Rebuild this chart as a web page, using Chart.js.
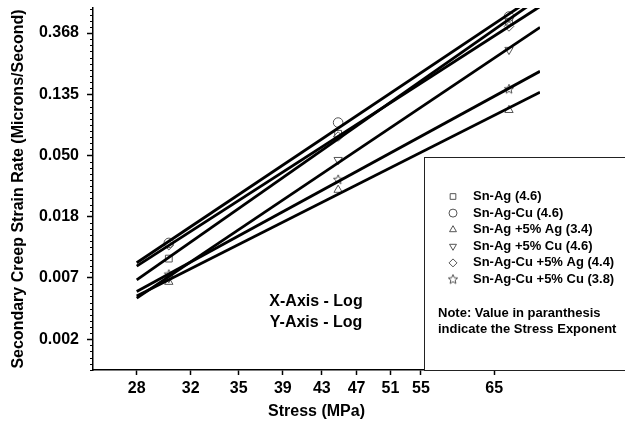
<!DOCTYPE html>
<html>
<head>
<meta charset="utf-8">
<script src="https://cdn.jsdelivr.net/npm/chart.js@4/dist/chart.umd.min.js"></script>
<style>
  html, body { margin: 0; padding: 0; background: #fff; }
  #wrap { width: 625px; height: 425px; }
</style>
</head>
<body>
<div id="wrap"><canvas id="chart"></canvas></div>
<script>
// stress levels of the creep tests (MPa)
const stressLevels = [30.2, 45.0, 67.3];

// secondary creep strain rate (microns/second) per alloy
const snAg = [0.00925, 0.0710, 0.443];
const snAgCu = [0.01195, 0.0853, 0.482];
const snAg5Ag = [0.00632, 0.0284, 0.1046];
const snAg5Cu = [0.00674, 0.0464, 0.280];
const snAgCu5Ag = [0.01152, 0.0679, 0.410];
const snAgCu5Cu = [0.00713, 0.0335, 0.147];

// fitted power-law lines, read at both ends of the stress range
const fitStress = [28, 72.4];
const fitSnAg = [0.00653, 0.656];
const fitSnAgCu = [0.00865, 0.705];
const fitSnAg5Ag = [0.00502, 0.140];
const fitSnAg5Cu = [0.00485, 0.404];
const fitSnAgCu5Ag = [0.00818, 0.568];
const fitSnAgCu5Cu = [0.00541, 0.197];

const seriesNames = ['Sn-Ag (4.6)', 'Sn-Ag-Cu (4.6)', 'Sn-Ag +5% Ag (3.4)', 'Sn-Ag +5% Cu (4.6)', 'Sn-Ag-Cu +5% Ag (4.4)', 'Sn-Ag-Cu +5% Cu (3.8)'];

// axis ticks
const stressTicks = [28, 31.8, 35.6, 39.5, 43.3, 47.0, 50.9, 54.7, 65];
const stressTickLabels = ['28', '32', '35', '39', '43', '47', '51', '55', '65'];
const rateTicks = [0.36788, 0.13534, 0.04979, 0.01832, 0.00674, 0.00248];
const rateTickLabels = ['0.368', '0.135', '0.050', '0.018', '0.007', '0.002'];

const FONT = '"Liberation Sans", Arial, sans-serif';
const MARK = '#555';

function makeStar(r) {
  const s = Math.ceil(r * 2 + 2);
  const c = document.createElement('canvas');
  c.width = s; c.height = s;
  const g = c.getContext('2d');
  g.beginPath();
  for (let i = 0; i < 10; i++) {
    const rad = i % 2 ? r * 0.45 : r;
    const a = -Math.PI / 2 + i * Math.PI / 5;
    g.lineTo(s / 2 + rad * Math.cos(a), s / 2 + rad * Math.sin(a));
  }
  g.closePath();
  g.strokeStyle = MARK;
  g.lineWidth = 1;
  g.stroke();
  return c;
}

const star = makeStar(5);
const styles = [
  {pointStyle: 'rect', rotation: 0},
  {pointStyle: 'circle', rotation: 0},
  {pointStyle: 'triangle', rotation: 0},
  {pointStyle: 'triangle', rotation: 180},
  {pointStyle: 'rectRot', rotation: 0},
  {pointStyle: star, rotation: 0}
];

const pointSeries = [snAg, snAgCu, snAg5Ag, snAg5Cu, snAgCu5Ag, snAgCu5Cu];
const fitSeries = [fitSnAg, fitSnAgCu, fitSnAg5Ag, fitSnAg5Cu, fitSnAgCu5Ag, fitSnAgCu5Cu];

const datasets = [];
pointSeries.forEach((vals, i) => {
  datasets.push({
    label: seriesNames[i],
    data: stressLevels.map((s, j) => ({x: s, y: vals[j]})),
    showLine: false,
    pointStyle: styles[i].pointStyle,
    rotation: styles[i].rotation,
    pointRadius: 4.8,
    borderColor: MARK,
    backgroundColor: 'rgba(0,0,0,0)',
    borderWidth: 1,
    order: 1
  });
});
fitSeries.forEach((vals, i) => {
  datasets.push({
    label: 'fit ' + seriesNames[i],
    data: fitStress.map((s, j) => ({x: s, y: vals[j]})),
    showLine: true,
    pointRadius: 0,
    borderColor: '#000',
    borderWidth: 2.8,
    order: 0
  });
});

// minor ticks on the rate axis, legend box and the axis note
const extras = {
  id: 'extras',
  afterDraw(chart) {
    const ctx = chart.ctx;
    const y = chart.scales.y;
    const left = chart.chartArea.left;
    ctx.save();
    ctx.strokeStyle = '#000';
    ctx.lineWidth = 1;
    for (let k = -65; k <= -6; k++) {
      if (k % 10 === 0) continue;
      const v = Math.exp(k / 10);
      if (v < y.min || v > y.max) continue;
      const py = Math.round(y.getPixelForValue(v)) + 0.5;
      ctx.beginPath();
      ctx.moveTo(left - 3, py);
      ctx.lineTo(left, py);
      ctx.stroke();
    }

    ctx.font = 'bold 16px ' + FONT;
    ctx.fillStyle = '#000';
    ctx.textAlign = 'center';
    ctx.textBaseline = 'middle';
    ctx.fillText('X-Axis - Log', 316, 302);
    ctx.fillText('Y-Axis - Log', 316, 323);

    // legend box
    ctx.fillStyle = '#fff';
    ctx.fillRect(424, 157, 210, 214);
    ctx.strokeStyle = '#222';
    ctx.lineWidth = 1;
    ctx.strokeRect(424.5, 157.5, 210, 213);

    ctx.font = 'bold 13px ' + FONT;
    ctx.textAlign = 'left';
    seriesNames.forEach((name, i) => {
      const ly = 196.5 + i * 16.6;
      ctx.strokeStyle = MARK;
      ctx.fillStyle = 'rgba(0,0,0,0)';
      ctx.lineWidth = 1;
      Chart.helpers.drawPoint(ctx, {
        pointStyle: styles[i].pointStyle,
        rotation: styles[i].rotation,
        radius: 4,
        borderWidth: 1
      }, 453, ly);
      ctx.fillStyle = '#000';
      ctx.fillText(name, 473, ly);
    });
    ctx.fillText('Note: Value in paranthesis', 438, 313);
    ctx.fillText('indicate the Stress Exponent', 438, 329);
    ctx.restore();
  }
};

new Chart(document.getElementById('chart'), {
  type: 'scatter',
  data: {datasets},
  plugins: [extras],
  options: {
    responsive: true,
    maintainAspectRatio: false,
    animation: false,
    events: [],
    layout: {padding: {top: 8, right: 85, left: 0, bottom: 0}},
    plugins: {legend: {display: false}, tooltip: {enabled: false}},
    scales: {
      x: {
        type: 'logarithmic',
        min: 25.26,
        max: 72.4,
        bounds: 'data',
        afterBuildTicks: s => { s.ticks = stressTicks.map(v => ({value: v})); },
        afterFit: s => { s.height = 55; s.paddingLeft = 0; s.paddingRight = 0; },
        ticks: {
          autoSkip: false,
          maxRotation: 0,
          padding: 4,
          color: '#000',
          font: {family: FONT, size: 16, weight: 'bold'},
          callback: (v, i) => stressTickLabels[i]
        },
        grid: {drawOnChartArea: false, tickLength: 5, tickColor: '#000', tickWidth: 1.5},
        border: {color: '#000', width: 1.5},
        title: {
          display: true,
          text: 'Stress (MPa)',
          color: '#000',
          font: {family: FONT, size: 16, weight: 'bold'},
          padding: {top: 0, bottom: 4}
        }
      },
      y: {
        type: 'logarithmic',
        min: 0.0015,
        max: 0.554,
        bounds: 'data',
        afterBuildTicks: s => { s.ticks = rateTicks.map(v => ({value: v})); },
        afterFit: s => { s.width = 93; s.paddingTop = 0; s.paddingBottom = 0; },
        ticks: {
          autoSkip: false,
          padding: 8,
          color: '#000',
          font: {family: FONT, size: 16, weight: 'bold'},
          callback: (v, i) => rateTickLabels[i]
        },
        grid: {drawOnChartArea: false, tickLength: 6, tickColor: '#000', tickWidth: 1.5},
        border: {color: '#000', width: 1.5},
        title: {
          display: true,
          text: 'Secondary Creep Strain Rate (Microns/Second)',
          color: '#000',
          font: {family: FONT, size: 16, weight: 'bold'},
          padding: {top: 9, bottom: 0}
        }
      }
    }
  }
});
</script>
</body>
</html>
